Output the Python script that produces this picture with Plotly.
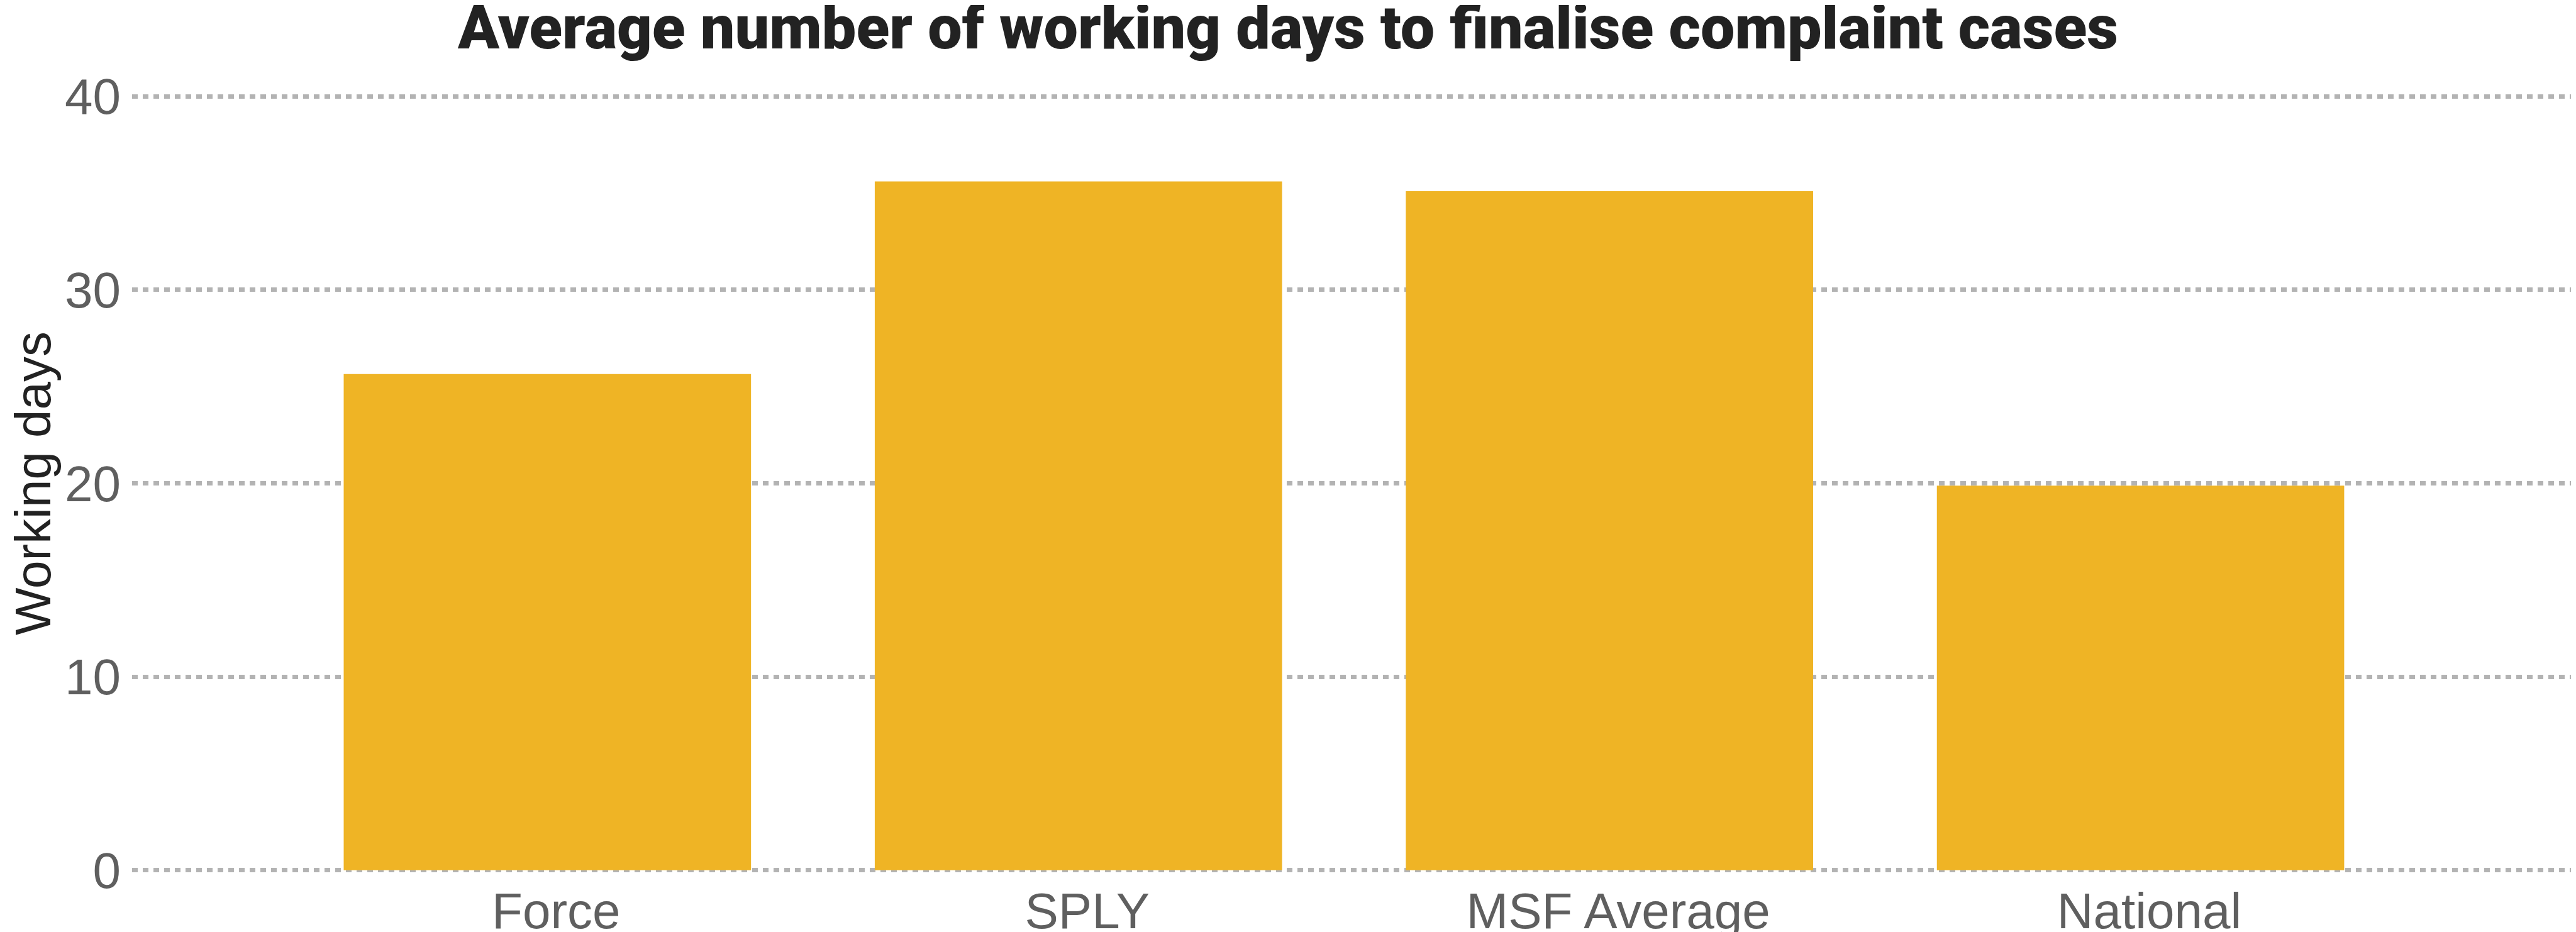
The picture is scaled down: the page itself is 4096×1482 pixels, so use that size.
import plotly.graph_objects as go

categories = ["Force", "SPLY", "MSF Average", "National"]
values = [25.65, 35.6, 35.1, 19.88]
y_ticks = [0, 10, 20, 30, 40]

title_text = "Average number of working days to finalise complaint cases"
y_title = "Working days"

W, H = 4096, 1482
OFF = 8  # browser default body margin

fig = go.Figure(
    go.Bar(
        x=categories,
        y=values,
        marker=dict(color="#EFB425", line=dict(width=0)),
        hoverinfo="skip",
    )
)

fig.update_layout(
    width=W,
    height=H,
    autosize=False,
    paper_bgcolor="white",
    plot_bgcolor="white",
    bargap=0.233,
    showlegend=False,
    margin=dict(l=210 - OFF, r=OFF, t=147 - OFF, b=92 + OFF, autoexpand=False),
    title=dict(
        text=title_text,
        x=(W / 2 - OFF) / W,
        xanchor="center",
        xref="container",
        y=1 - 35 / H,
        yref="container",
        yanchor="middle",
        font=dict(family="Roboto", size=97, color="#222222", weight=900),
    ),
    font=dict(family="Liberation Sans, Arial, sans-serif"),
)

fig.update_xaxes(
    type="category",
    range=[-0.782, 3.82],
    showgrid=False,
    zeroline=False,
    showline=False,
    ticks="",
    tickfont=dict(size=80, color="#5f5f5f"),
    ticklabelstandoff=5,
    ticklabelshift=14,
)

fig.update_yaxes(
    range=[-0.2, 40.2],
    tickvals=y_ticks,
    showgrid=True,
    gridcolor="#b3b3b3",
    gridwidth=6.5,
    griddash="9px,8px",
    zeroline=False,
    showline=False,
    ticks="",
    tickfont=dict(size=80, color="#5f5f5f"),
    ticklabelstandoff=17,
    title=dict(text=y_title, font=dict(size=80, color="#222222"), standoff=12),
)

fig.write_html("out.html")
